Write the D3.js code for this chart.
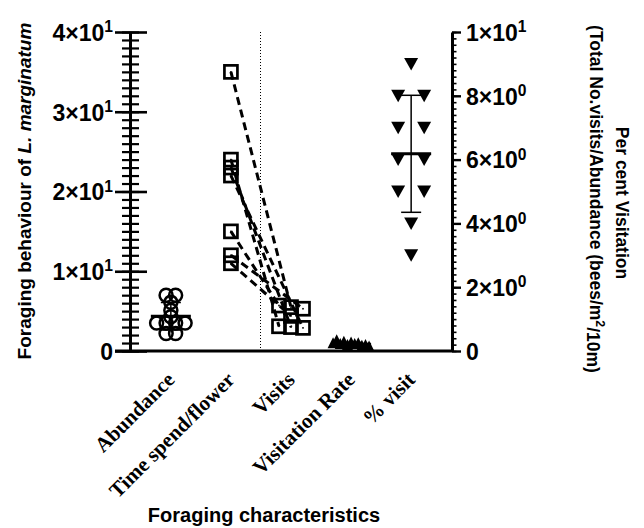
<!DOCTYPE html>
<html><head><meta charset="utf-8">
<script src="https://cdn.jsdelivr.net/npm/d3@7"></script>
<style>body{margin:0;background:#fff}</style>
</head><body><svg id="c" width="644" height="528"></svg>
<script>
const categories = ["Abundance","Time spend/flower","Visits","Visitation Rate","% visit"];
const abundance = [7,7,6.1,5.1,4.3,3.5,3.5,3.5,3.5,2.2,2.2];
const timeSpend = [35,24,23,22,15,12,11];
const visits = [5.5,3.1,3.0,2.9,5.7,5.3,4.4];
const visitationRate = [0.9,1.3,0.8,1.1,0.7,1.0,0.8,0.9,0.6,0.7,0.5];
const percentVisit = [9,8,8,7,7,6,6,5,5,4,3];
const leftTicks = [0,10,20,30,40];
const leftTickLabels = ["0","1×10^1","2×10^1","3×10^1","4×10^1"];
const rightTicks = [0,2,4,6,8,10];
const rightTickLabels = ["0","2×10^0","4×10^0","6×10^0","8×10^0","1×10^1"];

const svg = d3.select("#c");
const FONT = "'Liberation Sans', Arial, sans-serif";
const x = d3.scalePoint().domain(categories).range([130,452]).padding(0.68);
const yL = d3.scaleLinear().domain([0,40]).range([351,32]);
const yR = d3.scaleLinear().domain([0,10]).range([351,32]);

function labelParts(sel, lab){
  const p = lab.split("^");
  sel.text(null);
  sel.append("tspan").text(p[0]);
  if(p[1]!==undefined) sel.append("tspan").attr("dy","-0.55em").attr("font-size","0.68em").text(p[1]);
}

// left axis minor
const gLm = svg.append("g").attr("transform","translate(130,0)")
  .call(d3.axisLeft(yL).tickValues(d3.range(0,41,1)).tickFormat("").tickSize(0));
gLm.select(".domain").remove();
gLm.selectAll(".tick line").attr("x1",-8).attr("x2",9).attr("stroke","#000").attr("stroke-width",2.2);
// left axis major
const gL = svg.append("g").attr("transform","translate(130,0)")
  .call(d3.axisLeft(yL).tickValues(leftTicks).tickSize(0));
gL.select(".domain").attr("stroke","#000").attr("stroke-width",3);
gL.selectAll(".tick line").attr("x1",-15).attr("x2",17).attr("stroke","#000").attr("stroke-width",2.6);
gL.selectAll(".tick text").attr("x",-17).attr("dy","0.36em")
  .attr("font-family",FONT).attr("font-weight","bold").attr("font-size",23).attr("fill","#000")
  .each(function(d){ labelParts(d3.select(this), leftTickLabels[leftTicks.indexOf(d)]); });

// right axis minor
const gRm = svg.append("g").attr("transform","translate(452,0)")
  .call(d3.axisRight(yR).tickValues(d3.range(0,10.01,0.2)).tickFormat("").tickSize(0));
gRm.select(".domain").remove();
gRm.selectAll(".tick line").attr("x1",0).attr("x2",4.5).attr("stroke","#000").attr("stroke-width",1.6);
const gR = svg.append("g").attr("transform","translate(452,0)")
  .call(d3.axisRight(yR).tickValues(rightTicks).tickSize(0));
gR.select(".domain").attr("stroke","#000").attr("stroke-width",3);
gR.selectAll(".tick line").attr("x1",0).attr("x2",9).attr("stroke","#000").attr("stroke-width",2.4);
gR.selectAll(".tick text").attr("x",14).attr("dy","0.36em")
  .attr("font-family",FONT).attr("font-weight","bold").attr("font-size",23).attr("fill","#000")
  .each(function(d){ labelParts(d3.select(this), rightTickLabels[rightTicks.indexOf(d)]); });

// x axis
const gX = svg.append("g").attr("transform","translate(0,351)")
  .call(d3.axisBottom(x).tickSize(0).tickFormat(""));
gX.select(".domain").attr("d","M115,0H452").attr("stroke","#000").attr("stroke-width",3.2);
categories.forEach(c=>{
  svg.append("text").attr("transform",`translate(${x(c)+5},381) rotate(-45)`)
    .attr("text-anchor","end").attr("font-family","'Liberation Serif', 'Times New Roman', serif")
    .attr("font-weight","bold").attr("font-size",21).text(c);
});

// dotted divider
svg.append("line").attr("x1",260.5).attr("x2",260.5).attr("y1",yL(40)).attr("y2",yL(0))
  .attr("stroke","#000").attr("stroke-width",1).attr("stroke-dasharray","1,2");

// row-based scatter spreading (points of nearly equal value spread horizontally, centred)
function spread(vals, scale, cx, tol, step){
  const order = vals.map((v,i)=>i).sort((a,b)=>vals[b]-vals[a]);
  const out = new Array(vals.length);
  let row = [];
  const flush = ()=>{ row.sort((a,b)=>a-b).forEach((i,k)=>{ out[i] = {x: cx + (k-(row.length-1)/2)*step, y: scale(vals[i]), v: vals[i]}; }); row=[]; };
  order.forEach(i=>{
    if(row.length && Math.abs(scale(vals[i])-scale(vals[row[0]]))>=tol) flush();
    row.push(i);
  });
  flush();
  return out;
}
function spreadByValue(vals, scale, cx, tol, step){
  const idx = vals.map((v,i)=>i).sort((a,b)=>vals[b]-vals[a]);
  const sorted = idx.map(i=>vals[i]);
  const pts = spread(sorted, scale, cx, tol, step);
  const out = new Array(vals.length);
  idx.forEach((i,k)=>out[i]=pts[k]);
  return out;
}
function meanSd(vals, scale, cx){
  const m=d3.mean(vals), s=d3.deviation(vals);
  svg.append("line").attr("x1",cx).attr("x2",cx).attr("y1",scale(m+s)).attr("y2",scale(m-s)).attr("stroke","#000").attr("stroke-width",1.5);
  [m+s,m-s].forEach(v=>svg.append("line").attr("x1",cx-10).attr("x2",cx+10).attr("y1",scale(v)).attr("y2",scale(v)).attr("stroke","#000").attr("stroke-width",1.5));
  svg.append("line").attr("x1",cx-20).attr("x2",cx+20).attr("y1",scale(m)).attr("y2",scale(m)).attr("stroke","#000").attr("stroke-width",3);
}

// paired lines
const tsPts = spread(timeSpend, yL, x("Time spend/flower"), 5, 12);
const viPts = spreadByValue(visits, yL, x("Visits"), 7, 12);
tsPts.forEach((p,i)=>{
  svg.append("line").attr("x1",p.x).attr("y1",p.y).attr("x2",viPts[i].x).attr("y2",viPts[i].y)
    .attr("stroke","#000").attr("stroke-width",3).attr("stroke-dasharray","8,5");
});
function square(pts){
  pts.forEach(p=>{
    svg.append("rect").attr("x",p.x-6.5).attr("y",p.y-6.5).attr("width",13).attr("height",13)
      .attr("fill","none").attr("stroke","#000").attr("stroke-width",2.7);
    svg.append("rect").attr("x",p.x-0.8).attr("y",p.y-0.8).attr("width",1.6).attr("height",1.6).attr("fill","#000");
  });
}
square(tsPts); square(viPts);

// abundance
const abPts = spreadByValue(abundance, yL, x("Abundance"), 3, 9.5);
abPts.forEach(p=>svg.append("circle").attr("cx",p.x).attr("cy",p.y).attr("r",6.5).attr("fill","none").attr("stroke","#000").attr("stroke-width",2.5));
meanSd(abundance, yL, x("Abundance"));

// visitation rate
const vrPts = spread(visitationRate, yL, x("Visitation Rate"), 10, 3.6);
vrPts.forEach(p=>svg.append("path").attr("d",`M${p.x},${p.y-6.5}L${p.x+5.5},${p.y+4.5}L${p.x-5.5},${p.y+4.5}Z`).attr("fill","#000"));
meanSd(visitationRate, yL, x("Visitation Rate"));

// % visit (right axis)
const pvPts = spread(percentVisit, yR, x("% visit"), 3, 26);
pvPts.forEach(p=>svg.append("path").attr("d",`M${p.x-7},${p.y-6}L${p.x+7},${p.y-6}L${p.x},${p.y+6.5}Z`).attr("fill","#000"));
meanSd(percentVisit, yR, x("% visit"));

// titles
const lt = svg.append("text").attr("transform","translate(31,191) rotate(-90)").attr("text-anchor","middle")
  .attr("font-family",FONT).attr("font-weight","bold").attr("font-size",19);
lt.append("tspan").text("Foraging behaviour of ");
lt.append("tspan").attr("font-style","italic").text("L. marginatum");

svg.append("text").attr("transform","translate(616,203) rotate(90)").attr("text-anchor","middle")
  .attr("font-family",FONT).attr("font-weight","bold").attr("font-size",17.5).text("Per cent Visitation");
const rt = svg.append("text").attr("transform","translate(590,199) rotate(90)").attr("text-anchor","middle")
  .attr("font-family",FONT).attr("font-weight","bold").attr("font-size",17.5);
rt.append("tspan").text("(Total No.visits/Abundance (bees/m");
rt.append("tspan").attr("dy","-0.5em").attr("font-size","0.7em").text("2");
rt.append("tspan").attr("dy","0.5em").text("/10m)");

svg.append("text").attr("x",264).attr("y",522).attr("text-anchor","middle")
  .attr("font-family",FONT).attr("font-weight","bold").attr("font-size",20).text("Foraging characteristics");
</script></body></html>
